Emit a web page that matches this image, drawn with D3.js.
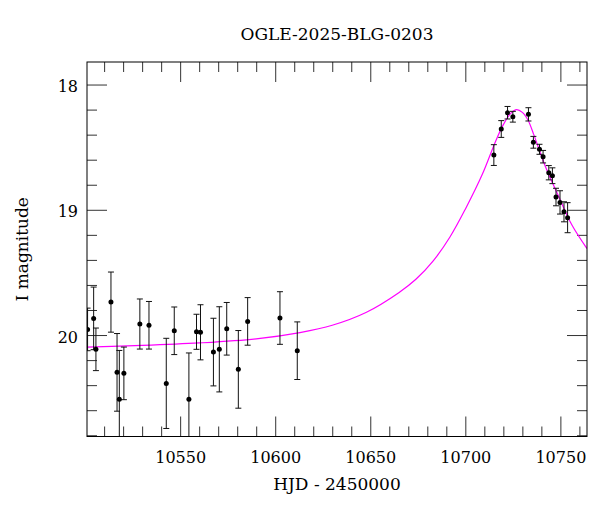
<!DOCTYPE html>
<html><head><meta charset="utf-8">
<script src="https://cdn.jsdelivr.net/npm/d3@7"></script>
<style>
html,body{margin:0;padding:0;background:#fff;}
svg{display:block;}
text{font-family:"DejaVu Serif",serif;fill:#000;}
</style></head><body>
<svg id="chart" width="600" height="512"></svg>
<script>
const chartTitle = "OGLE-2025-BLG-0203";
const xLabel = "HJD - 2450000";
const yLabel = "I magnitude";
const xMajorTicks = [10550, 10600, 10650, 10700, 10750];
const yMajorTicks = [18, 19, 20];

// observations (HJD - 2450000, I mag, error)
const obsHJD = [10501.3, 10504.5, 10505.7, 10513.6, 10516.8, 10518.0, 10520.4, 10528.8, 10533.6, 10542.7,
  10546.9, 10554.6, 10558.6, 10560.7, 10567.5, 10570.6, 10574.5, 10580.6, 10585.5, 10602.5, 10611.6,
  10715.0, 10718.9, 10722.2, 10725.0, 10733.2, 10735.8, 10739.0, 10740.9, 10743.9, 10745.8, 10747.7,
  10749.8, 10751.9, 10753.8];
const obsMag = [19.955, 19.867, 20.114, 19.737, 20.298, 20.513, 20.306, 19.912, 19.922, 20.386,
  19.966, 20.513, 19.974, 19.978, 20.136, 20.114, 19.950, 20.274, 19.891, 19.864, 20.125,
  18.563, 18.355, 18.225, 18.257, 18.238, 18.461, 18.517, 18.576, 18.704, 18.728, 18.898,
  18.941, 19.016, 19.063];
const obsErr = [0.17, 0.25, 0.17, 0.24, 0.31, 0.39, 0.21, 0.20, 0.19, 0.36,
  0.19, 0.37, 0.14, 0.22, 0.27, 0.34, 0.21, 0.31, 0.19, 0.21, 0.23,
  0.083, 0.067, 0.05, 0.043, 0.053, 0.047, 0.04, 0.05, 0.057, 0.063, 0.07,
  0.093, 0.08, 0.12];

// model light curve
const modelHJD = [10501, 10530, 10560, 10590, 10613, 10630, 10648, 10665, 10674, 10683, 10692, 10700,
  10709, 10716, 10720, 10724, 10727, 10730, 10733, 10736, 10742, 10749, 10756, 10764];
const modelMag = [20.096, 20.083, 20.063, 20.030, 19.980, 19.922, 19.818, 19.662, 19.555, 19.410, 19.215, 18.995,
  18.715, 18.450, 18.320, 18.228, 18.200, 18.222, 18.285, 18.400, 18.650, 18.890, 19.120, 19.310];

const W = 600, H = 512;
const L = 87, R = 587, T = 62, B = 436.5;

const svg = d3.select("#chart");
const x = d3.scaleLinear().domain([10501, 10764]).range([L, R]);
const y = d3.scaleLinear().domain([17.82, 20.81]).range([T, B]);

const xMinor = d3.range(10510, 10761, 10).filter(v => !xMajorTicks.includes(v));
const yMinor = d3.range(18, 20.81, 0.2).map(v => +v.toFixed(1)).filter(v => !yMajorTicks.includes(v));

function styleAxis(g) {
  g.select(".domain").remove();
  g.selectAll(".tick line").attr("stroke", "#333").attr("stroke-width", 1);
  g.selectAll(".tick text").style("font-family", "DejaVu Serif, serif").style("font-size", "16px").attr("fill", "#000");
}

// bottom
svg.append("g").attr("transform", `translate(0,${B})`)
  .call(d3.axisBottom(x).tickValues(xMajorTicks).tickSize(-20).tickPadding(15).tickFormat(d3.format("d")))
  .call(styleAxis);
svg.append("g").attr("transform", `translate(0,${B})`)
  .call(d3.axisBottom(x).tickValues(xMinor).tickSize(-10).tickFormat(""))
  .call(styleAxis);
// top
svg.append("g").attr("transform", `translate(0,${T})`)
  .call(d3.axisTop(x).tickValues(xMajorTicks).tickSize(-20).tickFormat(""))
  .call(styleAxis);
svg.append("g").attr("transform", `translate(0,${T})`)
  .call(d3.axisTop(x).tickValues(xMinor).tickSize(-10).tickFormat(""))
  .call(styleAxis);
// left
const gl = svg.append("g").attr("transform", `translate(${L},0)`)
  .call(d3.axisLeft(y).tickValues(yMajorTicks).tickSize(-20).tickPadding(9).tickFormat(d3.format("d")))
  .call(styleAxis);
gl.selectAll(".tick text").attr("dy", "0.45em");
svg.append("g").attr("transform", `translate(${L},0)`)
  .call(d3.axisLeft(y).tickValues(yMinor).tickSize(-10).tickFormat(""))
  .call(styleAxis);
// right
svg.append("g").attr("transform", `translate(${R},0)`)
  .call(d3.axisRight(y).tickValues(yMajorTicks).tickSize(-20).tickFormat(""))
  .call(styleAxis);
svg.append("g").attr("transform", `translate(${R},0)`)
  .call(d3.axisRight(y).tickValues(yMinor).tickSize(-10).tickFormat(""))
  .call(styleAxis);

svg.append("defs").append("clipPath").attr("id", "clip")
  .append("rect").attr("x", L).attr("y", T).attr("width", R - L).attr("height", B - T);

const plot = svg.append("g").attr("clip-path", "url(#clip)");

// model curve
const model = modelHJD.map((t, i) => [t, modelMag[i]]);
plot.append("path").datum(model)
  .attr("fill", "none").attr("stroke", "#ff00ff").attr("stroke-width", 1.2)
  .attr("d", d3.line().x(d => x(d[0])).y(d => y(d[1])).curve(d3.curveCatmullRom.alpha(0.5)));

// observations
const obs = obsHJD.map((t, i) => ({t, m: obsMag[i], e: obsErr[i]}));
const eg = plot.append("g").attr("stroke", "#111").attr("stroke-width", 1).attr("fill", "none");
const capW = 3;
obs.forEach(d => {
  const cx = x(d.t), y1 = y(d.m - d.e), y2 = y(d.m + d.e);
  eg.append("line").attr("x1", cx).attr("x2", cx).attr("y1", y1).attr("y2", y2);
  eg.append("line").attr("x1", cx - capW).attr("x2", cx + capW).attr("y1", y1).attr("y2", y1);
  eg.append("line").attr("x1", cx - capW).attr("x2", cx + capW).attr("y1", y2).attr("y2", y2);
});
plot.append("g").selectAll("circle").data(obs).join("circle")
  .attr("cx", d => x(d.t)).attr("cy", d => y(d.m)).attr("r", 2.5).attr("fill", "#000");

// frame
svg.append("rect").attr("x", L).attr("y", T).attr("width", R - L).attr("height", B - T)
  .attr("fill", "none").attr("stroke", "#000").attr("stroke-width", 1);

// labels
svg.append("text").attr("x", (L + R) / 2).attr("y", 40).attr("text-anchor", "middle")
  .style("font-size", "17px").text(chartTitle);
svg.append("text").attr("x", (L + R) / 2).attr("y", 490).attr("text-anchor", "middle")
  .style("font-size", "17px").text(xLabel);
svg.append("text").attr("transform", `translate(28,${(T + B) / 2}) rotate(-90)`).attr("text-anchor", "middle")
  .style("font-size", "17px").text(yLabel);
</script>
</body></html>
